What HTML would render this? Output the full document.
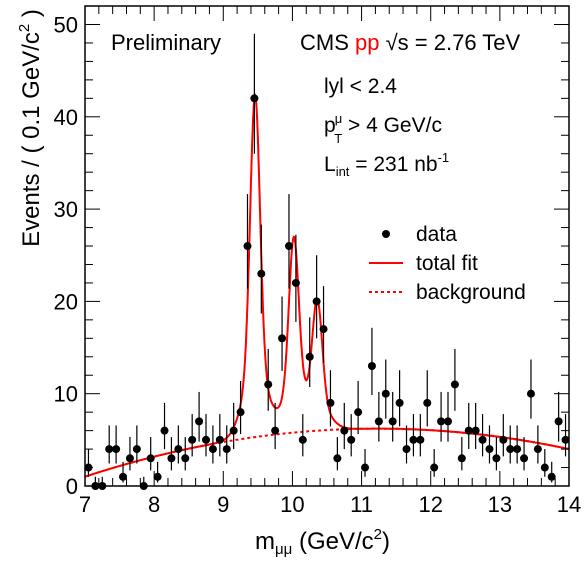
<!DOCTYPE html>
<html><head><meta charset="utf-8">
<style>
html,body{margin:0;padding:0;background:#fff;}
svg{display:block;font-family:"Liberation Sans",Arial,sans-serif;}
</style></head>
<body>
<svg id="chart" width="586" height="561" viewBox="0 0 586 561" xmlns="http://www.w3.org/2000/svg">
<g id="marks"></g>
<g id="axes"></g>
<rect x="85" y="6" width="484" height="480" fill="none" stroke="#000" stroke-width="1.5"/>
<text x="111" y="50" font-size="22">Preliminary</text>
<text x="300" y="50" font-size="22">CMS <tspan fill="#f00">pp</tspan> √s = 2.76 TeV</text>
<text x="324" y="93" font-size="21">lyl &lt; 2.4</text>
<text x="324" y="132" font-size="21">p<tspan font-size="13" dy="-9" dx="-1">μ</tspan><tspan font-size="13" dx="-8" dy="20">T</tspan><tspan dy="-11"> &gt; 4 GeV/c</tspan></text>
<text x="324" y="171" font-size="21">L<tspan font-size="13" dy="5">int</tspan><tspan dy="-5"> = 231 nb</tspan><tspan font-size="13" dy="-9">-1</tspan></text>
<g>
  <g><circle cx="386" cy="234" r="4"/><text x="416" y="241" font-size="21">data</text></g>
  <g><line x1="369" y1="263" x2="403" y2="263" stroke="#f00" stroke-width="2"/><text x="416" y="270" font-size="21">total fit</text></g>
  <g><line x1="369" y1="292" x2="403" y2="292" stroke="#f00" stroke-width="2" stroke-dasharray="3,3"/><text x="416" y="299" font-size="21">background</text></g>
</g>
<text x="255" y="549" font-size="24">m<tspan font-size="15" dy="5">μμ</tspan><tspan dy="-5"> (GeV/c</tspan><tspan font-size="15" dy="-10">2</tspan><tspan dy="10">)</tspan></text>
<text transform="translate(39,128) rotate(-90)" text-anchor="middle" font-size="24">Events / ( 0.1 GeV/c<tspan font-size="15" dy="-10">2</tspan><tspan dy="10"> )</tspan></text>
</svg>
<script>
const binCenters = [];
for (let i = 0; i < 70; i++) binCenters.push(+(7.05 + 0.1 * i).toFixed(2));
const counts = [2,0,0,4,4,1,3,4,0,3,1,6,3,4,3,5,7,5,4,5,4,6,8,
  26,42,23,11,6,16,26,22,5,14,20,17,
  9,3,6,5,8,2,13,7,10,7,9,4,5,5,9,2,7,7,11,3,6,6,5,4,3,5,4,4,3,10,4,2,1,7,5];
const xTicks = [7,8,9,10,11,12,13,14];
const yTicks = [0,10,20,30,40,50];
const peakMass = [9.46, 10.02, 10.36];
const peakAmp = [37, 20.8, 13.7];
const bgCoef = [6.2, 0.137, -0.29]; // around m=11

const X0=85, X1=569, Y0=486, YS=9.23;
const xs = m => X0 + (m - 7) * (X1 - X0) / 7;
const ys = v => Y0 - v * YS;
const NS = "http://www.w3.org/2000/svg";
const marks = document.getElementById('marks');
const axes = document.getElementById('axes');
function mk(tag, attrs, parent) {
  const e = document.createElementNS(NS, tag);
  for (const k in attrs) e.setAttribute(k, attrs[k]);
  parent.appendChild(e); return e;
}
function bg(m){const d=m-11;return bgCoef[0]+bgCoef[1]*d+bgCoef[2]*d*d;}
function g(m,mu,s){return Math.exp(-(m-mu)*(m-mu)/(2*s*s));}
function total(m){let v=bg(m);for(let i=0;i<3;i++){v+=peakAmp[i]*(0.8*g(m,peakMass[i],0.07)+0.2*g(m,peakMass[i],0.17));}return v;}

for (let t = 7; t <= 14.001; t += 0.2) {
  const major = Math.abs(t - Math.round(t)) < 1e-6;
  const L = major ? 15 : 8, x = xs(t);
  const a = mk('line',{x1:x,y1:Y0,x2:x,y2:Y0-L,stroke:'#000','stroke-width':1},axes);
  
  
  const b = mk('line',{x1:x,y1:6,x2:x,y2:6+L,stroke:'#000','stroke-width':1},axes);
  
  
}
xTicks.forEach(t=>{
  const tx = mk('text',{x:xs(t),y:Y0+26,'text-anchor':'middle','font-size':22},axes);
  tx.textContent=t;
  
  
});
for (let v = 0; v <= 52; v += 2) {
  const major = v % 10 === 0, L = major ? 15 : 8, y = ys(v);
  const a = mk('line',{x1:X0,y1:y,x2:X0+L,y2:y,stroke:'#000','stroke-width':1},axes);
  
  
  const b = mk('line',{x1:X1,y1:y,x2:X1-L,y2:y,stroke:'#000','stroke-width':1},axes);
  
  
}
yTicks.forEach(v=>{
  const tx = mk('text',{x:X0-7,y:ys(v)+8,'text-anchor':'end','font-size':22},axes);
  tx.textContent=v;
  
  
});

let pb='', pt='';
for (let m = 7; m <= 14.0001; m += 0.005) {
  pb += (pb?'L':'M') + xs(m).toFixed(1) + ',' + ys(bg(m)).toFixed(1);
  pt += (pt?'L':'M') + xs(m).toFixed(1) + ',' + ys(total(m)).toFixed(1);
}
const bgp = mk('path',{d:pb,fill:'none',stroke:'#f00','stroke-width':2,'stroke-dasharray':'3,3'},marks);


const fp = mk('path',{d:pt,fill:'none',stroke:'#f00','stroke-width':2},marks);



binCenters.forEach((m,i)=>{
  const n = counts[i], r = Math.sqrt(n + 0.25);
  const hi = n + 0.5 + r, lo = Math.max(0, n + 0.5 - r);
  const grp = mk('g',{},marks);
  
  
  mk('line',{x1:xs(m),x2:xs(m),y1:ys(lo),y2:ys(hi),stroke:'#000','stroke-width':1.2},grp);
  mk('circle',{cx:xs(m),cy:ys(n),r:4,fill:'#000'},grp);
});
</script>
</body></html>
